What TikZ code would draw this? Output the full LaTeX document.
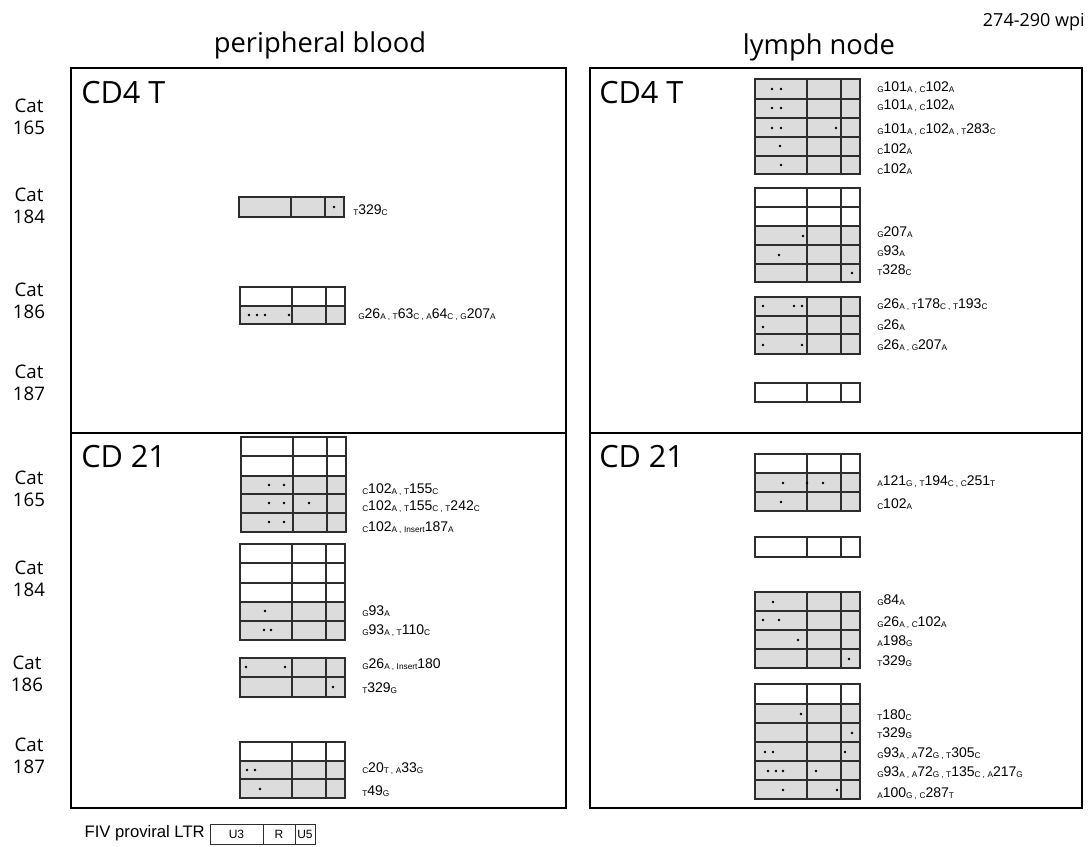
\documentclass[tikz,border=0pt]{standalone}
\usepackage{fontspec}
\setmainfont{Liberation Sans}
\newfontfamily\titlefont{Open Sans}
\definecolor{RowGrey}{RGB}{220, 220, 220}
\definecolor{CellLine}{RGB}{45, 45, 45}
\usetikzlibrary{positioning}
\tikzset{
  panel/.style={draw=black, line width=2.2pt},
  cell/.style={draw=CellLine, line width=0.9pt},
  heading/.style={font=\titlefont\fontsize{20.5}{22}\selectfont, inner sep=0pt},
  celltype/.style={font=\titlefont\fontsize{23}{25}\selectfont, anchor=west, inner sep=0pt},
  catname/.style={font=\titlefont\fontsize{14}{16.5}\selectfont, align=center, inner sep=0pt},
  mutlabel/.style={font=\fontsize{10.5}{12}\selectfont, anchor=base west, inner sep=0pt},
}
% small base letters round a position
\newcommand{\nuc}[1]{\raisebox{-1pt}{\fontsize{6.2}{7}\selectfont #1}}
\newcommand{\snv}[3]{\nuc{#1}#2\nuc{#3}}
\newcommand{\snpsep}{\hspace{1.5pt}\nuc{,}\hspace{2pt}}
% one LTR row: x, top, bottom, fill
\newcommand{\ltrrow}[4]{%
  \draw[cell, fill=#4] (#1,#2) rectangle (#1+52,#3) (#1+52,#2) rectangle (#1+86,#3) (#1+86,#2) rectangle (#1+105,#3);}
\newcommand{\snp}[2]{\fill (#1,#2) circle (1pt);}

\begin{document}
\begin{tikzpicture}[x=0.75pt, y=-0.75pt]
\useasboundingbox (0,0) rectangle (1088,846);

% headings
\node[heading] (pbtitle) at (320,45) {peripheral blood};
\node[heading] (lntitle) at (819,47) {lymph node};
\node[font=\titlefont\fontsize{13.5}{15}\selectfont, anchor=east, inner sep=0pt] (wpi) at (1085,22) {274-290 wpi};

% panels
\draw[panel] (71,68) rectangle (566,808);
\draw[panel] (71,433) -- (566,433);
\draw[panel] (590,68) rectangle (1082,808);
\draw[panel] (590,433) -- (1082,433);

\node[celltype] (pbcd4) at (81,93) {CD4 T};
\node[celltype] (pbcd21) at (81,457) {CD 21};
\node[celltype] (lncd4) at (599,93) {CD4 T};
\node[celltype] (lncd21) at (599,457) {CD 21};

% cats
\node[catname] (cat165a) at (29,117) {Cat\\165};
\node[catname] (cat184a) at (29,206) {Cat\\184};
\node[catname] (cat186a) at (29,301) {Cat\\186};
\node[catname] (cat187a) at (29,383) {Cat\\187};
\node[catname] (cat165b) at (29,489) {Cat\\165};
\node[catname] (cat184b) at (29,579) {Cat\\184};
\node[catname] (cat186b) at (27,674) {Cat\\186};
\node[catname] (cat187b) at (29,756) {Cat\\187};

% peripheral blood, CD4 T
\ltrrow{239}{197}{217}{RowGrey}
\snp{334}{207}
\node[mutlabel] (pb4c184) at (353,214) {\snv{T}{329}{C}};

\ltrrow{240}{287}{306}{white}
\ltrrow{240}{306}{324}{RowGrey}
\snp{249}{315} \snp{257}{315} \snp{265}{315} \snp{289}{315}
\node[mutlabel] (pb4c186) at (358,318) {\snv{G}{26}{A}\snpsep\snv{T}{63}{C}\snpsep\snv{A}{64}{C}\snpsep\snv{G}{207}{A}};

% peripheral blood, CD 21
\ltrrow{241}{437}{456}{white}
\ltrrow{241}{456}{476}{white}
\ltrrow{241}{476}{494}{RowGrey}
\ltrrow{241}{494}{513}{RowGrey}
\ltrrow{241}{513}{532}{RowGrey}
\snp{269}{485} \snp{284}{485}
\snp{269}{503} \snp{284}{503} \snp{309}{503}
\snp{269}{522} \snp{284}{522}
\node[mutlabel] (pb21c165a) at (362,493) {\snv{C}{102}{A}\snpsep\snv{T}{155}{C}};
\node[mutlabel] (pb21c165b) at (362,510) {\snv{C}{102}{A}\snpsep\snv{T}{155}{C}\snpsep\snv{T}{242}{C}};
\node[mutlabel] (pb21c165c) at (362,531) {\snv{C}{102}{A}\snpsep\snv{Insert}{187}{A}};

\ltrrow{240}{544}{563}{white}
\ltrrow{240}{563}{583}{white}
\ltrrow{240}{583}{602}{white}
\ltrrow{240}{602}{621}{RowGrey}
\ltrrow{240}{621}{640}{RowGrey}
\snp{265}{611}
\snp{264}{630} \snp{271}{630}
\node[mutlabel] (pb21c184a) at (362,615) {\snv{G}{93}{A}};
\node[mutlabel] (pb21c184b) at (362,634) {\snv{G}{93}{A}\snpsep\snv{T}{110}{C}};

\ltrrow{240}{658}{677}{RowGrey}
\ltrrow{240}{677}{697}{RowGrey}
\snp{246}{667} \snp{285}{667}
\snp{333}{687}
\node[mutlabel] (pb21c186a) at (362,668) {\snv{G}{26}{A}\snpsep\snv{Insert}{180}{}};
\node[mutlabel] (pb21c186b) at (362,692) {\snv{T}{329}{G}};

\ltrrow{240}{742}{761}{white}
\ltrrow{240}{761}{779}{RowGrey}
\ltrrow{240}{779}{798}{RowGrey}
\snp{247}{770} \snp{255}{770}
\snp{260}{789}
\node[mutlabel] (pb21c187a) at (362,772) {\snv{C}{20}{T}\snpsep\snv{A}{33}{G}};
\node[mutlabel] (pb21c187b) at (362,795) {\snv{T}{49}{G}};

% lymph node, CD4 T
\ltrrow{755}{79}{99}{RowGrey}
\ltrrow{755}{99}{118}{RowGrey}
\ltrrow{755}{118}{137}{RowGrey}
\ltrrow{755}{137}{156}{RowGrey}
\ltrrow{755}{156}{174}{RowGrey}
\snp{772}{89} \snp{781}{89}
\snp{772}{108} \snp{781}{108}
\snp{772}{128} \snp{781}{128} \snp{836}{128}
\snp{780}{146}
\snp{781}{165}
\node[mutlabel] (ln4c165a) at (877,91) {\snv{G}{101}{A}\snpsep\snv{C}{102}{A}};
\node[mutlabel] (ln4c165b) at (877,109) {\snv{G}{101}{A}\snpsep\snv{C}{102}{A}};
\node[mutlabel] (ln4c165c) at (877,133) {\snv{G}{101}{A}\snpsep\snv{C}{102}{A}\snpsep\snv{T}{283}{C}};
\node[mutlabel] (ln4c165d) at (877,153) {\snv{C}{102}{A}};
\node[mutlabel] (ln4c165e) at (877,173) {\snv{C}{102}{A}};

\ltrrow{755}{188}{207}{white}
\ltrrow{755}{207}{226}{white}
\ltrrow{755}{226}{245}{RowGrey}
\ltrrow{755}{245}{264}{RowGrey}
\ltrrow{755}{264}{282}{RowGrey}
\snp{803}{236}
\snp{779}{255}
\snp{852}{273}
\node[mutlabel] (ln4c184a) at (877,236) {\snv{G}{207}{A}};
\node[mutlabel] (ln4c184b) at (877,255) {\snv{G}{93}{A}};
\node[mutlabel] (ln4c184c) at (877,274) {\snv{T}{328}{C}};

\ltrrow{755}{297}{316}{RowGrey}
\ltrrow{755}{316}{334}{RowGrey}
\ltrrow{755}{334}{354}{RowGrey}
\snp{763}{306} \snp{794}{306} \snp{802}{306}
\snp{763}{327}
\snp{763}{345} \snp{802}{345}
\node[mutlabel] (ln4c186a) at (877,308) {\snv{G}{26}{A}\snpsep\snv{T}{178}{C}\snpsep\snv{T}{193}{C}};
\node[mutlabel] (ln4c186b) at (877,329) {\snv{G}{26}{A}};
\node[mutlabel] (ln4c186c) at (877,349) {\snv{G}{26}{A}\snpsep\snv{G}{207}{A}};

\ltrrow{755}{383}{402}{white}

% lymph node, CD 21
\ltrrow{755}{454}{473}{white}
\ltrrow{755}{473}{492}{RowGrey}
\ltrrow{755}{492}{511}{RowGrey}
\snp{783}{483} \snp{807}{483} \snp{823}{483}
\snp{781}{502}
\node[mutlabel] (ln21c165a) at (877,485) {\snv{A}{121}{G}\snpsep\snv{T}{194}{C}\snpsep\snv{C}{251}{T}};
\node[mutlabel] (ln21c165b) at (877,508) {\snv{C}{102}{A}};

\ltrrow{755}{537}{557}{white}

\ltrrow{755}{592}{611}{RowGrey}
\ltrrow{755}{611}{630}{RowGrey}
\ltrrow{755}{630}{649}{RowGrey}
\ltrrow{755}{649}{668}{RowGrey}
\snp{773}{602}
\snp{763}{620} \snp{779}{620}
\snp{798}{640}
\snp{849}{659}
\node[mutlabel] (ln21c186a) at (877,604) {\snv{G}{84}{A}};
\node[mutlabel] (ln21c186b) at (877,626) {\snv{G}{26}{A}\snpsep\snv{C}{102}{A}};
\node[mutlabel] (ln21c186c) at (877,645) {\snv{A}{198}{G}};
\node[mutlabel] (ln21c186d) at (877,665) {\snv{T}{329}{G}};

\ltrrow{755}{684}{704}{white}
\ltrrow{755}{704}{723}{RowGrey}
\ltrrow{755}{723}{742}{RowGrey}
\ltrrow{755}{742}{761}{RowGrey}
\ltrrow{755}{761}{780}{RowGrey}
\ltrrow{755}{780}{799}{RowGrey}
\snp{801}{714}
\snp{852}{733}
\snp{765}{752} \snp{773}{752} \snp{845}{752}
\snp{768}{771} \snp{776}{771} \snp{783}{771} \snp{816}{771}
\snp{783}{790} \snp{837}{790}
\node[mutlabel] (ln21c187a) at (877,719) {\snv{T}{180}{C}};
\node[mutlabel] (ln21c187b) at (877,737) {\snv{T}{329}{G}};
\node[mutlabel] (ln21c187c) at (877,757) {\snv{G}{93}{A}\snpsep\snv{A}{72}{G}\snpsep\snv{T}{305}{C}};
\node[mutlabel] (ln21c187d) at (877,776) {\snv{G}{93}{A}\snpsep\snv{A}{72}{G}\snpsep\snv{T}{135}{C}\snpsep\snv{A}{217}{G}};
\node[mutlabel] (ln21c187e) at (877,797) {\snv{A}{100}{G}\snpsep\snv{C}{287}{T}};

% LTR key
\node[font=\fontsize{12.5}{14}\selectfont, anchor=east, inner sep=0pt] (ltrkey) at (205,833) {FIV proviral LTR};
\draw[cell, line width=0.7pt] (210,824) rectangle (263,844) (263,824) rectangle (295,844) (295,824) rectangle (315,844);
\node[font=\fontsize{9}{10}\selectfont, inner sep=0pt] (keyu3) at (236.5,834) {U3};
\node[font=\fontsize{9}{10}\selectfont, inner sep=0pt] (keyr) at (279,834) {R};
\node[font=\fontsize{9}{10}\selectfont, inner sep=0pt] (keyu5) at (305,834) {U5};
\end{tikzpicture}
\end{document}
